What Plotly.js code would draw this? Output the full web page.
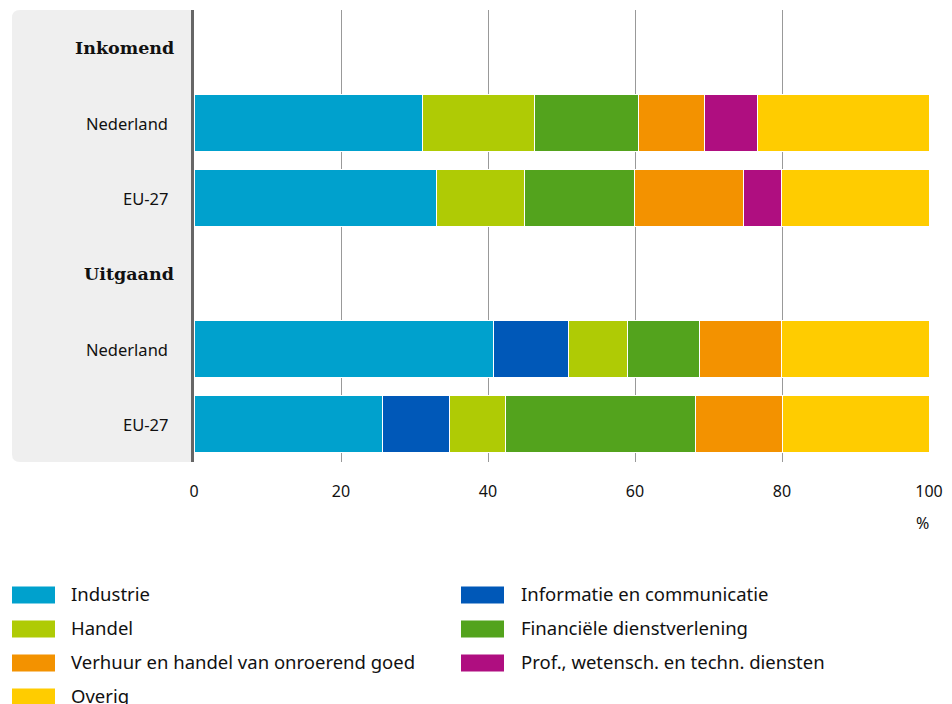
<!DOCTYPE html>
<html>
<head>
<meta charset="utf-8">
<script src="https://cdn.plot.ly/plotly-3.0.1.min.js"></script>
<style>
html,body{margin:0;padding:0;background:#fff;}
#chart{width:952px;height:704px;}
</style>
</head>
<body>
<div id="chart"></div>
<script>
// ---- Data (percentages) ----
var rowKeys = ["Inkomend", "Inkomend|Nederland", "Inkomend|EU-27", "Uitgaand", "Uitgaand|Nederland", "Uitgaand|EU-27"];
var rowLabels = ["Inkomend", "Nederland", "EU-27", "Uitgaand", "Nederland", "EU-27"];
var rowIsHeader = [true, false, false, true, false, false];
var barRows = ["Inkomend|Nederland", "Inkomend|EU-27", "Uitgaand|Nederland", "Uitgaand|EU-27"];

var industrie  = [31.1, 33.0, 40.8, 25.7];
var informatie = [0,    0,    10.1, 9.0];
var handel     = [15.2, 12.0, 8.1,  7.7];
var financiele = [14.2, 14.9, 9.8,  25.8];
var verhuur    = [9.0,  14.9, 11.1, 11.9];
var prof       = [7.2,  5.1,  0,    0];
var overig     = [23.3, 20.1, 20.1, 19.9];

var seriesNames = ["Industrie", "Informatie en communicatie", "Handel", "Financiële dienstverlening",
                   "Verhuur en handel van onroerend goed", "Prof., wetensch. en techn. diensten", "Overig"];
var seriesValues = [industrie, informatie, handel, financiele, verhuur, prof, overig];
var seriesColors = ["#00A1CD", "#0058B8", "#AFCB05", "#53A31D", "#F39200", "#AF0E80", "#FFCC00"];

var xTicks = [0, 20, 40, 60, 80, 100];

// ---- Layout geometry helpers ----
var W = 952, H = 704;
var M = {l: 194, r: 23, t: 10, b: 242};
var PW = W - M.l - M.r, PH = H - M.t - M.b;
function px2x(px) { return (px - M.l) / PW; }
function px2y(py) { return (M.t + PH - py) / PH; }

var sansFont = "'Noto Sans', 'Open Sans', Roboto, sans-serif";
var serifFont = "'DejaVu Serif', 'Liberation Serif', serif";

var traces = seriesNames.map(function (name, i) {
  return {
    type: "bar",
    orientation: "h",
    name: name,
    y: barRows,
    x: seriesValues[i],
    marker: {color: seriesColors[i], line: {color: "#ffffff", width: 1}},
    hoverinfo: "name+x",
    showlegend: false
  };
});

// Gray rounded label panel
var x0 = px2x(12), rx = 8 / PW, ry = 8 / PH;
var panelPath = "M 0,1 L " + (x0 + rx) + ",1 Q " + x0 + ",1 " + x0 + "," + (1 - ry) +
  " L " + x0 + "," + ry + " Q " + x0 + ",0 " + (x0 + rx) + ",0 L 0,0 Z";

var shapes = [{
  type: "path", xref: "paper", yref: "paper", path: panelPath,
  fillcolor: "#EFEFEF", line: {width: 0}, layer: "below"
}];

var annotations = [];
rowKeys.forEach(function (k, i) {
  annotations.push({
    xref: "paper", yref: "y", x: rowIsHeader[i] ? px2x(176) : px2x(170), y: k,
    xanchor: "right", yanchor: "middle", showarrow: false,
    text: rowIsHeader[i] ? "<b>" + rowLabels[i] + "</b>" : rowLabels[i],
    font: rowIsHeader[i] ? {family: serifFont, size: 17.5, color: "#111"} : {family: sansFont, size: 16.5, color: "#111"}
  });
});
annotations.push({
  xref: "paper", yref: "paper", x: 1, y: px2y(523), xanchor: "right", yanchor: "middle",
  xshift: 2, showarrow: false, text: "%", font: {family: sansFont, size: 16, color: "#111"}
});

// Custom legend (two columns)
seriesNames.forEach(function (name, i) {
  var col = i % 2, row = Math.floor(i / 2);
  var sx = col === 0 ? 12 : 461;
  var tx = col === 0 ? 69 : 519;
  var cy = 595 + 34 * row;
  shapes.push({
    type: "rect", xref: "paper", yref: "paper",
    x0: px2x(sx), x1: px2x(sx + 43), y0: px2y(cy + 8.5), y1: px2y(cy - 8.5),
    fillcolor: seriesColors[i], line: {width: 0}
  });
  annotations.push({
    xref: "paper", yref: "paper", x: px2x(tx), y: px2y(cy - 1.5), xanchor: "left", yanchor: "middle",
    showarrow: false, text: name, font: {family: sansFont, size: 18.5, color: "#111"}
  });
});

var layout = {
  width: W, height: H,
  margin: M,
  paper_bgcolor: "#ffffff", plot_bgcolor: "rgba(0,0,0,0)",
  barmode: "stack",
  bargap: 0.243,
  showlegend: false,
  xaxis: {
    range: [0, 100], tickvals: xTicks, ticktext: xTicks.map(String),
    showgrid: true, gridcolor: "#999999", gridwidth: 1,
    zeroline: false, showline: false, ticks: "",
    ticklabelstandoff: 18,
    tickfont: {family: sansFont, size: 16, color: "#111"},
    fixedrange: true
  },
  yaxis: {
    type: "category", categoryorder: "array", categoryarray: rowKeys,
    range: [5.5, -0.5],
    showticklabels: false, showgrid: false, zeroline: false,
    showline: true, linecolor: "#666666", linewidth: 3, ticks: "",
    fixedrange: true
  },
  shapes: shapes,
  annotations: annotations,
  font: {family: sansFont, color: "#111"}
};

Plotly.newPlot("chart", traces, layout, {displayModeBar: false, staticPlot: true});
</script>
</body>
</html>
